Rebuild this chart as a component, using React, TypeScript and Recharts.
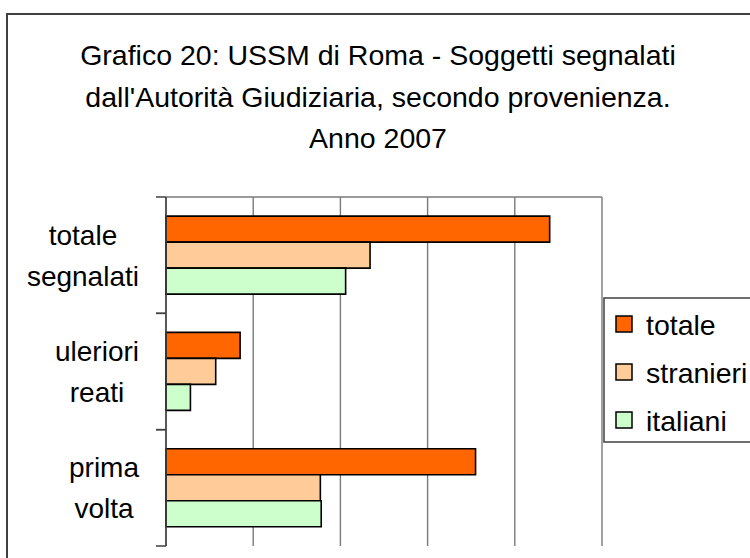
import React from 'react';
import { BarChart, Bar, XAxis, YAxis, CartesianGrid, Legend } from 'recharts';

const categories = ['totale segnalati', 'uleriori reati', 'prima volta'];
const totale = [440, 85, 355];
const stranieri = [234, 57, 177];
const italiani = [206, 28, 178];
const xTicks = [0, 100, 200, 300, 400, 500];
const seriesNames = ['totale', 'stranieri', 'italiani'];
const seriesColors = ['#FF6600', '#FFCC99', '#CCFFCC'];
const titleLines = [
  'Grafico 20: USSM di Roma - Soggetti segnalati',
  "dall'Autorità Giudiziaria, secondo provenienza.",
  'Anno 2007',
];

const seriesValues = [totale, stranieri, italiani];
const data = categories.map((c, i) => {
  const row: Record<string, any> = { name: c };
  seriesNames.forEach((s, k) => {
    row[s] = seriesValues[k][i];
  });
  return row;
});

const FONT = "'Liberation Sans', Arial, sans-serif";
const W = 750;
const H = 558;
const MARGIN = { top: 197, right: 148, bottom: 12, left: 0 };
const PLOT_H = H - MARGIN.top - MARGIN.bottom;
const LABEL_SIZE = 28;
const LEGEND_SIZE = 28.5;
const TITLE_SIZE = 28.5;
const AXIS_COLOR = '#404040';
const GRID_COLOR = '#7a7a7a';

let ctx: CanvasRenderingContext2D | null = null;
function measure(text: string, size: number) {
  if (!ctx) ctx = document.createElement('canvas').getContext('2d');
  if (!ctx) return text.length * size * 0.5;
  ctx.font = `${size}px ${FONT}`;
  return ctx.measureText(text).width;
}

function CategoryTick(props: any) {
  const { x, y, payload } = props;
  const band = PLOT_H / categories.length;
  const lines = String(payload.value).split(' ');
  const widths = lines.map((l) => measure(l, LABEL_SIZE));
  const blockW = Math.max(...widths);
  const right = x - 17;
  const cx = right - blockW / 2;
  const lineH = 41;
  const first = y - ((lines.length - 1) * lineH) / 2 + 10;
  return (
    <g>
      <line x1={x} x2={x + 10} y1={y - band / 2} y2={y - band / 2} stroke={AXIS_COLOR} strokeWidth={1.5} />
      <line x1={x} x2={x + 10} y1={y + band / 2} y2={y + band / 2} stroke={AXIS_COLOR} strokeWidth={1.5} />
      <text textAnchor="middle" fontFamily={FONT} fontSize={LABEL_SIZE} fill="#000">
        {lines.map((l, i) => (
          <tspan key={i} x={cx} y={first + i * lineH}>
            {l}
          </tspan>
        ))}
      </text>
    </g>
  );
}

function LegendBox(props: any) {
  const payload = [...(props.payload || [])].sort(
    (a: any, b: any) => seriesNames.indexOf(a.value) - seriesNames.indexOf(b.value)
  );
  return (
    <svg width={170} height={147} style={{ display: 'block' }}>
      <rect x={1} y={1} width={200} height={144} fill="#fff" stroke={AXIS_COLOR} strokeWidth={1.5} />
      {payload.map((p: any, i: number) => {
        const idx = seriesNames.indexOf(p.value);
        const color = idx >= 0 ? seriesColors[idx] : p.color;
        return (
          <g key={i}>
            <rect x={13} y={19 + 48 * i} width={16} height={16} fill={color} stroke="#000" strokeWidth={1.5} />
            <text x={43} y={38 + 48 * i} fontFamily={FONT} fontSize={LEGEND_SIZE} fill="#000">
              {p.value}
            </text>
          </g>
        );
      })}
    </svg>
  );
}

function verticalLines(p: any) {
  const scale = p?.xAxis?.scale;
  if (typeof scale === 'function') {
    return xTicks.map((t) => scale(t));
  }
  const lo = xTicks[0];
  const hi = xTicks[xTicks.length - 1];
  return xTicks.map((t) => p.offset.left + ((t - lo) / (hi - lo)) * p.offset.width);
}

export default function App() {
  return (
    <div style={{ position: 'fixed', left: 0, top: 0, width: W, height: H, overflow: 'hidden', background: '#fff' }}>
      <div
        style={{
          position: 'absolute',
          left: 6,
          top: 13,
          width: 800,
          height: 600,
          border: `2px solid ${AXIS_COLOR}`,
          boxSizing: 'border-box',
        }}
      />
      <div style={{ position: 'absolute', left: 0, top: 0 }}>
        <BarChart
          width={W}
          height={H}
          data={data}
          layout="vertical"
          margin={MARGIN}
          barCategoryGap="16.4%"
          barGap={0}
        >
          <CartesianGrid
            stroke={GRID_COLOR}
            strokeWidth={1.4}
            vertical={true}
            horizontal={true}
            verticalCoordinatesGenerator={verticalLines}
            horizontalCoordinatesGenerator={(p: any) => [p.offset.top]}
          />
          <XAxis
            type="number"
            domain={[0, 500]}
            ticks={xTicks}
            tick={false}
            tickLine={false}
            height={0}
            axisLine={{ stroke: AXIS_COLOR, strokeWidth: 1.5 }}
          />
          <YAxis
            type="category"
            dataKey="name"
            width={166}
            tickSize={10}
            tickMargin={0}
            tickLine={false}
            interval={0}
            axisLine={{ stroke: AXIS_COLOR, strokeWidth: 1.5 }}
            tick={<CategoryTick />}
          />
          {seriesNames.map((s, k) => (
            <Bar
              key={s}
              dataKey={s}
              name={s}
              fill={seriesColors[k]}
              stroke="#000"
              strokeWidth={1.6}
              isAnimationActive={false}
            />
          ))}
          <Legend
            layout="horizontal"
            verticalAlign="middle"
            align="center"
            content={<LegendBox />}
            wrapperStyle={{ position: 'absolute', left: 603, top: 297, width: 170, height: 147 }}
          />
        </BarChart>
      </div>
      <svg style={{ position: 'absolute', left: 0, top: 0 }} width={W} height={180}>
        {titleLines.map((t, i) => (
          <text
            key={i}
            x={378}
            y={65 + i * 41.5}
            textAnchor="middle"
            fontFamily={FONT}
            fontSize={TITLE_SIZE}
            fill="#000"
          >
            {t}
          </text>
        ))}
      </svg>
    </div>
  );
}
